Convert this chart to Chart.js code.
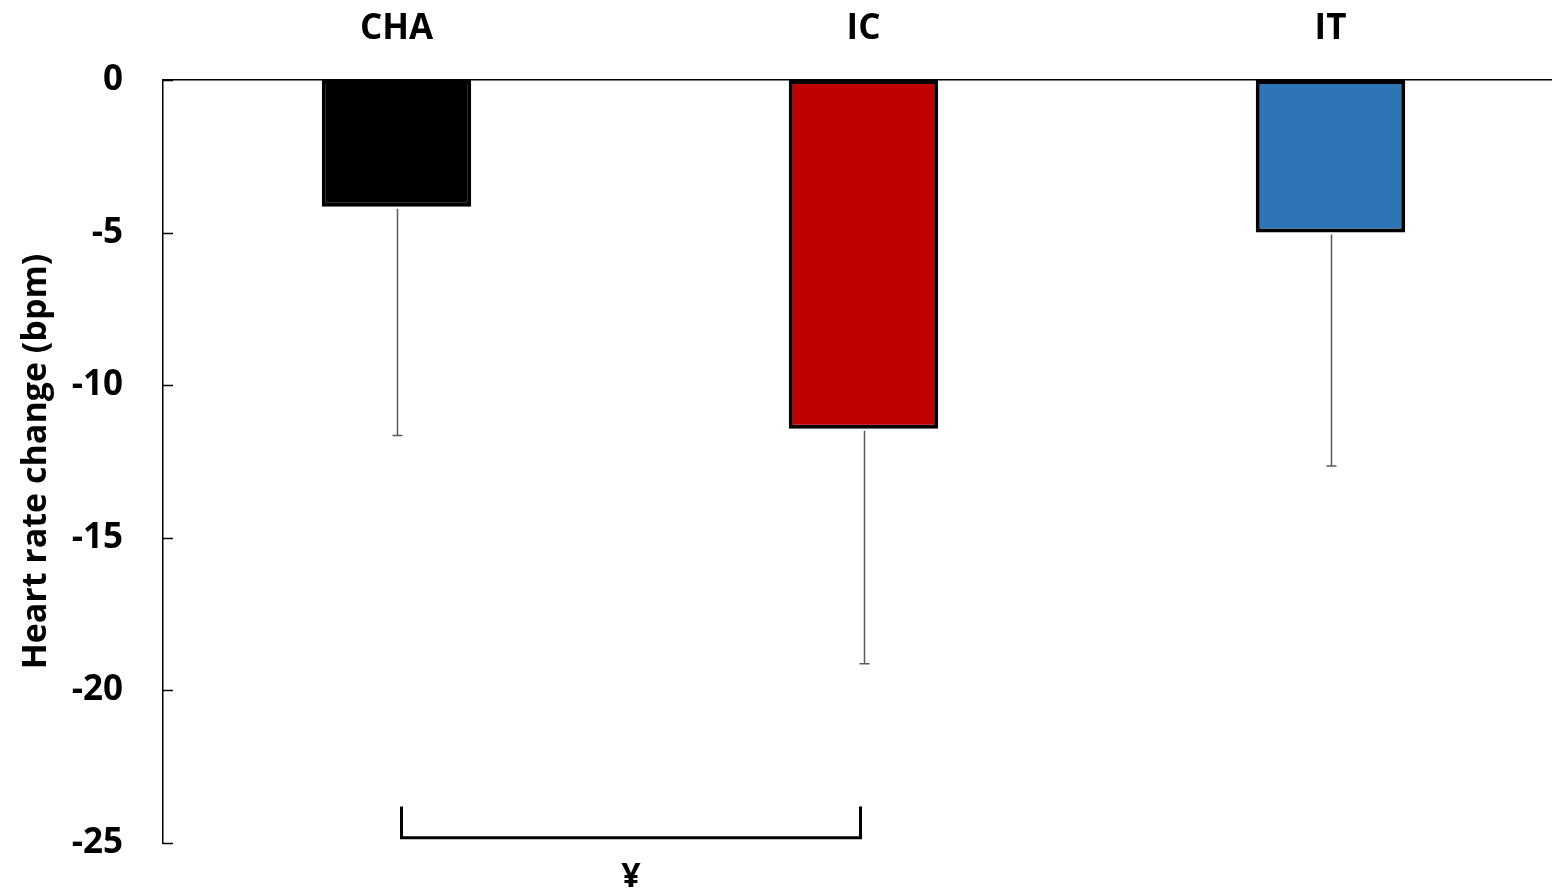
<!DOCTYPE html>
<html lang="en">
<head>
  <meta charset="UTF-8">
  <title>Heart rate change</title>
  <script src="https://cdn.jsdelivr.net/npm/chart.js"></script>
  <style>
    html, body { margin: 0; padding: 0; background: #fff; overflow: hidden; }
    #wrap { width: 1564px; height: 893px; }
  </style>
</head>
<body>
  <div id="wrap"><canvas id="hrChart"></canvas></div>

  <script>
    const groups = ['CHA', 'IC', 'IT'];
    const meanChange = [-4.15, -11.43, -5.0];
    const errSD = [7.5, 7.7, 7.65];
    const barColors = ['#000000', '#C00000', '#2E75B6'];
    const yTicks = [0, -5, -10, -15, -20, -25];
    // significance bracket between CHA and IC
    const sigPair = [0, 1];
    const sigLevel = [-24.83, -23.8];
    const sigMark = '¥';

    const FONT = '"Open Sans", sans-serif';

    const extras = {
      id: 'extras',
      afterDatasetsDraw(chart) {
        const { ctx, scales: { x, y } } = chart;
        ctx.save();
        // inward ticks on y axis
        ctx.strokeStyle = '#000';
        ctx.lineWidth = 1.5;
        yTicks.forEach(v => {
          const py = Math.round(y.getPixelForValue(v)) + 0.5;
          ctx.beginPath();
          ctx.moveTo(x.left, py);
          ctx.lineTo(x.left + 10, py);
          ctx.stroke();
        });
        // error bars (downward only)
        ctx.strokeStyle = '#595959';
        ctx.lineWidth = 1.5;
        meanChange.forEach((m, i) => {
          const px = Math.round(x.getPixelForValue(i)) + 0.5;
          const y0 = y.getPixelForValue(m) + 2;
          const y1 = y.getPixelForValue(m - errSD[i]);
          ctx.beginPath();
          ctx.moveTo(px, y0);
          ctx.lineTo(px, y1);
          ctx.moveTo(px - 5, y1);
          ctx.lineTo(px + 5, y1);
          ctx.stroke();
        });
        // bracket
        const bx0 = x.getPixelForValue(sigPair[0]) + 5;
        const bx1 = x.getPixelForValue(sigPair[1]) - 3;
        const by = y.getPixelForValue(sigLevel[0]);
        const bt = y.getPixelForValue(sigLevel[1]);
        ctx.strokeStyle = '#000';
        ctx.lineWidth = 3;
        ctx.beginPath();
        ctx.moveTo(bx0, bt);
        ctx.lineTo(bx0, by);
        ctx.lineTo(bx1, by);
        ctx.lineTo(bx1, bt);
        ctx.stroke();
        ctx.fillStyle = '#000';
        ctx.font = 'bold 34px ' + FONT;
        ctx.textAlign = 'center';
        ctx.textBaseline = 'middle';
        ctx.fillText(sigMark, (bx0 + bx1) / 2, by + 40);
        ctx.restore();
      }
    };

    new Chart(document.getElementById('hrChart'), {
      type: 'bar',
      data: {
        labels: groups,
        datasets: [{
          data: meanChange,
          backgroundColor: barColors,
          borderColor: '#000',
          borderWidth: 4,
          borderSkipped: false,
          barPercentage: 0.32,
          categoryPercentage: 1
        }]
      },
      options: {
        responsive: true,
        maintainAspectRatio: false,
        animation: false,
        layout: { padding: { top: 0, bottom: 50, left: 0, right: 0 } },
        plugins: { legend: { display: false }, tooltip: { enabled: false } },
        scales: {
          x: {
            position: 'top',
            grid: { display: false, drawTicks: false },
            border: { display: true, color: '#000', width: 1.5 },
            ticks: { color: '#000', font: { family: FONT, size: 35, weight: 'bold' }, padding: 30 },
            afterFit(s) { s.height = 80; }
          },
          y: {
            min: -25,
            max: 0,
            grid: { display: false, drawTicks: false },
            border: { display: true, color: '#000', width: 1.5 },
            ticks: {
              stepSize: 5,
              color: '#000',
              font: { family: FONT, size: 35, weight: 'bold' },
              padding: 40
            },
            title: {
              display: true,
              text: 'Heart rate change (bpm)',
              color: '#000',
              font: { family: FONT, size: 34, weight: 'bold' },
              padding: { top: 16, bottom: 0 }
            },
            afterFit(s) {
              s.width = 163;
              s.paddingTop = 0;
              s.paddingBottom = 0;
            }
          }
        }
      },
      plugins: [extras]
    });
  </script>
</body>
</html>
